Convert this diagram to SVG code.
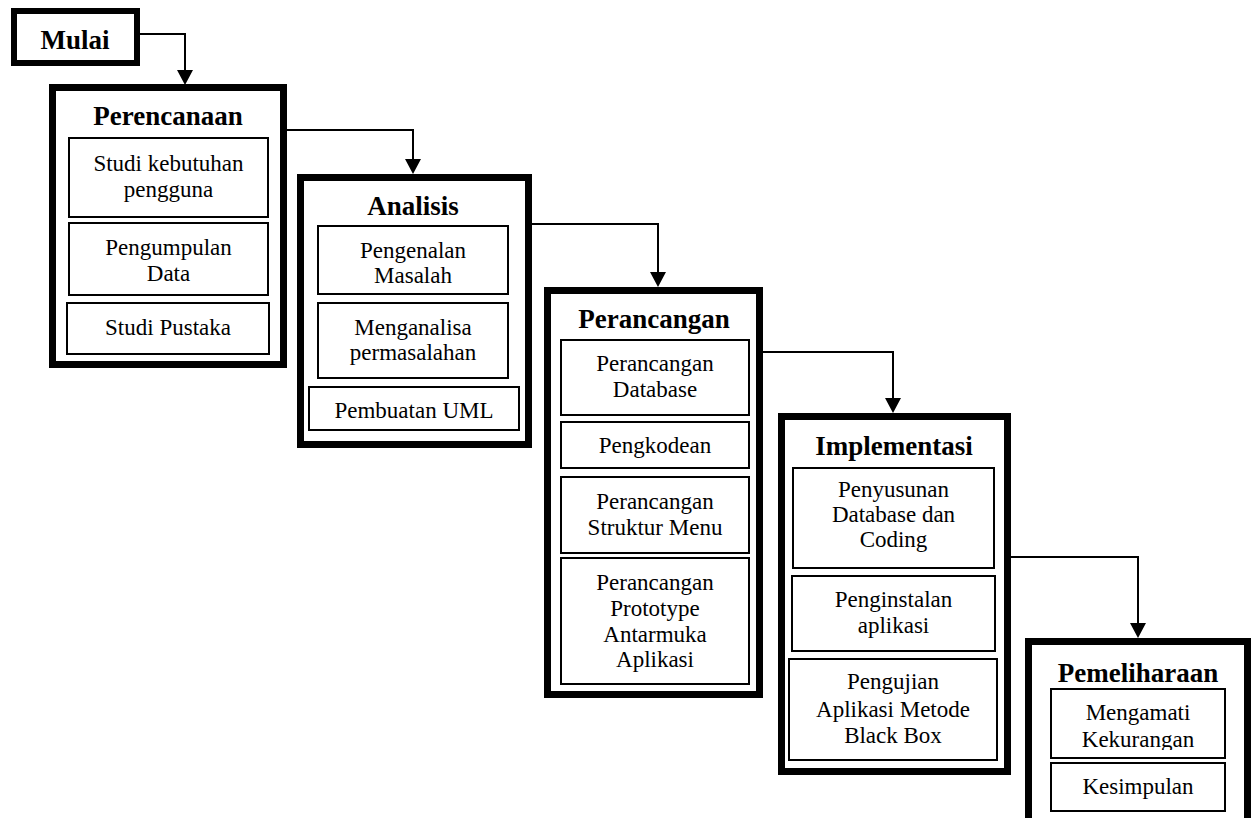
<svg xmlns="http://www.w3.org/2000/svg" width="1251" height="818" viewBox="0 0 1251 818">
  <style>
    .stage { fill: #fff; stroke: #000; stroke-width: 7; }
    .task { fill: #fff; stroke: #000; stroke-width: 2; }
    .title { font-family: "Liberation Serif", "Times New Roman", serif; font-weight: bold; font-size: 27px; fill: #000; text-anchor: middle; }
    .label { font-family: "Liberation Serif", "Times New Roman", serif; font-size: 23px; fill: #000; text-anchor: middle; }
    .link { fill: none; stroke: #000; stroke-width: 2; }
  </style>
  <defs>
    <marker id="arrow" viewBox="0 0 15 16" markerWidth="15" markerHeight="16" refX="11" refY="8" orient="auto" markerUnits="userSpaceOnUse">
      <path d="M0,0 L15,8 L0,16 z" fill="#000"/>
    </marker>
    <clipPath id="clip-kekurangan">
      <rect x="1040" y="690" width="200" height="60"/>
    </clipPath>
  </defs>

  <!-- connectors between stages -->
  <g id="connectors">
    <path class="link" d="M140,34 H185 V81" marker-end="url(#arrow)"/>
    <path class="link" d="M287,130 H413 V170" marker-end="url(#arrow)"/>
    <path class="link" d="M532,224 H658 V283" marker-end="url(#arrow)"/>
    <path class="link" d="M763,352 H893 V409" marker-end="url(#arrow)"/>
    <path class="link" d="M1011,557 H1138 V634" marker-end="url(#arrow)"/>
  </g>

  <!-- start -->
  <g id="mulai">
    <rect x="14" y="11" width="123" height="52" style="fill:#fff;stroke:#000;stroke-width:6"/>
    <text class="title" x="75" y="49">Mulai</text>
  </g>

  <!-- stage 1 -->
  <g id="perencanaan">
    <rect class="stage" x="52.5" y="87.5" width="231" height="277"/>
    <text class="title" x="168" y="125">Perencanaan</text>
    <rect class="task" x="69" y="138" width="199" height="79"/>
    <text class="label" x="168.5" y="171">Studi kebutuhan</text>
    <text class="label" x="168.5" y="197">pengguna</text>
    <rect class="task" x="69" y="223" width="199" height="72"/>
    <text class="label" x="168.5" y="255">Pengumpulan</text>
    <text class="label" x="168.5" y="281">Data</text>
    <rect class="task" x="67" y="303" width="202" height="51"/>
    <text class="label" x="168" y="335">Studi Pustaka</text>
  </g>

  <!-- stage 2 -->
  <g id="analisis">
    <rect class="stage" x="300.5" y="177.5" width="228" height="267"/>
    <text class="title" x="413" y="215">Analisis</text>
    <rect class="task" x="318" y="226" width="190" height="68"/>
    <text class="label" x="413" y="258">Pengenalan</text>
    <text class="label" x="413" y="283">Masalah</text>
    <rect class="task" x="318" y="303" width="190" height="75"/>
    <text class="label" x="413" y="335">Menganalisa</text>
    <text class="label" x="413" y="360">permasalahan</text>
    <rect class="task" x="309" y="387" width="210" height="43"/>
    <text class="label" x="414" y="418">Pembuatan UML</text>
  </g>

  <!-- stage 3 -->
  <g id="perancangan">
    <rect class="stage" x="547.5" y="290.5" width="212" height="404"/>
    <text class="title" x="654" y="328">Perancangan</text>
    <rect class="task" x="561" y="340" width="188" height="75"/>
    <text class="label" x="655" y="371">Perancangan</text>
    <text class="label" x="655" y="397">Database</text>
    <rect class="task" x="561" y="422" width="188" height="46"/>
    <text class="label" x="655" y="453">Pengkodean</text>
    <rect class="task" x="561" y="477" width="188" height="76"/>
    <text class="label" x="655" y="509">Perancangan</text>
    <text class="label" x="655" y="535">Struktur Menu</text>
    <rect class="task" x="561" y="558" width="188" height="126"/>
    <text class="label" x="655" y="590">Perancangan</text>
    <text class="label" x="655" y="616">Prototype</text>
    <text class="label" x="655" y="642">Antarmuka</text>
    <text class="label" x="655" y="667">Aplikasi</text>
  </g>

  <!-- stage 4 -->
  <g id="implementasi">
    <rect class="stage" x="781.5" y="416.5" width="226" height="355"/>
    <text class="title" x="894" y="455">Implementasi</text>
    <rect class="task" x="793" y="468" width="201" height="100"/>
    <text class="label" x="893.5" y="497">Penyusunan</text>
    <text class="label" x="893.5" y="522">Database dan</text>
    <text class="label" x="893.5" y="547">Coding</text>
    <rect class="task" x="792" y="576" width="203" height="75"/>
    <text class="label" x="893.5" y="607">Penginstalan</text>
    <text class="label" x="893.5" y="633">aplikasi</text>
    <rect class="task" x="789" y="659" width="208" height="101"/>
    <text class="label" x="893" y="689">Pengujian</text>
    <text class="label" x="893" y="717">Aplikasi Metode</text>
    <text class="label" x="893" y="743">Black Box</text>
  </g>

  <!-- stage 5 -->
  <g id="pemeliharaan">
    <rect class="stage" x="1028.5" y="641.5" width="219" height="200"/>
    <text class="title" x="1138" y="682">Pemeliharaan</text>
    <rect class="task" x="1051" y="689" width="174" height="69"/>
    <text class="label" x="1138" y="720">Mengamati</text>
    <text class="label" x="1138" y="747" clip-path="url(#clip-kekurangan)">Kekurangan</text>
    <rect class="task" x="1051" y="763" width="174" height="48"/>
    <text class="label" x="1138" y="794">Kesimpulan</text>
  </g>
</svg>
